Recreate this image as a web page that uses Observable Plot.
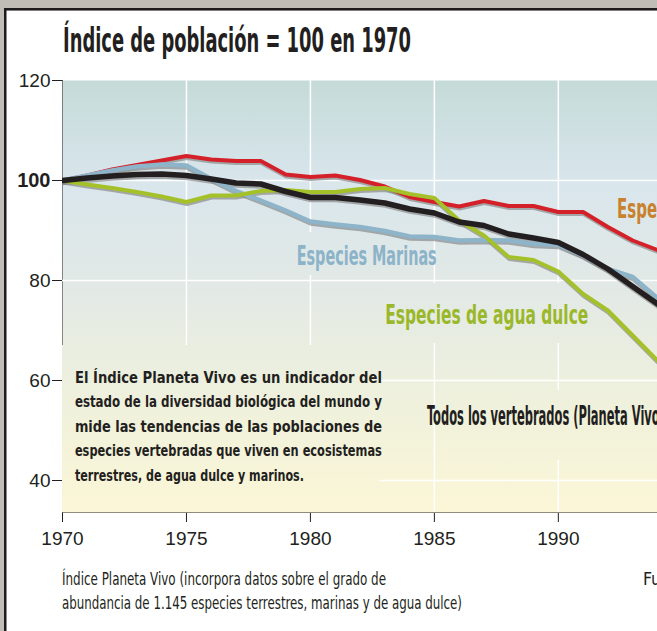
<!DOCTYPE html>
<html>
<head>
<meta charset="utf-8">
<script src="https://cdn.jsdelivr.net/npm/d3@7"></script>
<script src="https://cdn.jsdelivr.net/npm/@observablehq/plot@0.6"></script>
<style>
html, body { margin: 0; padding: 0; overflow: hidden; background: #fff; }
#defs { position: absolute; left: 0; top: 0; width: 0; height: 0; }
</style>
</head>
<body>
<svg id="defs" width="0" height="0">
  <defs>
    <linearGradient id="bg" gradientUnits="userSpaceOnUse" x1="0" y1="80" x2="0" y2="512">
      <stop offset="0" stop-color="#c5dbd8"/>
      <stop offset="0.12" stop-color="#cfe0e2"/>
      <stop offset="0.24" stop-color="#d9e6ec"/>
      <stop offset="0.47" stop-color="#e2e9e6"/>
      <stop offset="0.70" stop-color="#edf0de"/>
      <stop offset="1" stop-color="#fbf6d6"/>
    </linearGradient>
  </defs>
</svg>
<div id="chart"></div>
<script>
// ---------- data ----------
const years = [1970, 1971, 1972, 1973, 1974, 1975, 1976, 1977, 1978, 1979,
               1980, 1981, 1982, 1983, 1984, 1985, 1986, 1987, 1988, 1989,
               1990, 1991, 1992, 1993, 1994, 1995];
const terrestres = [100, 101, 102.2, 103.1, 104, 104.9, 104.2, 103.9, 103.9, 101.2,
                    100.7, 101, 100.1, 98.8, 96.7, 95.7, 94.8, 95.9, 94.9, 94.9,
                    93.7, 93.7, 90.7, 88, 86.1, 84.5];
const marinas = [100, 101, 102, 102.8, 103.2, 103, 100.3, 97.9, 96, 94,
                 91.8, 91.2, 90.7, 89.9, 88.8, 88.7, 88, 88.1, 88, 87.3,
                 87.1, 85, 82.3, 80.7, 76.5, 73];
const aguaDulce = [100, 99.2, 98.5, 97.7, 96.8, 95.7, 97, 97, 97.9, 98.1,
                   97.7, 97.7, 98.3, 98.5, 97.3, 96.5, 92, 89, 84.7, 84.1,
                   81.8, 77.3, 74, 69, 64, 59];
const todos = [100, 100.5, 100.9, 101.2, 101.3, 101, 100.3, 99.5, 99.3, 97.8,
               96.6, 96.6, 96.1, 95.5, 94.3, 93.5, 91.7, 91, 89.3, 88.5,
               87.6, 85.2, 82.3, 78.8, 75.3, 72];

const xTicks = [1970, 1975, 1980, 1985, 1990];
const yTicks = [40, 60, 80, 100, 120];
const gridX = [1975, 1980, 1985, 1990];
const gridY = [40, 60, 80, 100];

const title = "Índice de población = 100 en 1970";
const labelMarinas = "Especies Marinas";
const labelDulce = "Especies de agua dulce";
const labelTodos = "Todos los vertebrados (Planeta Vivo)";
const labelTerrestres = "Especies terrestres";
const paragraph = [
  "El Índice Planeta Vivo es un indicador del",
  "estado de la diversidad biológica del mundo y",
  "mide las tendencias de las poblaciones de",
  "especies vertebradas que viven en ecosistemas",
  "terrestres, de agua dulce y marinos."
];
const caption = [
  "Índice Planeta Vivo (incorpora datos sobre el grado de",
  "abundancia de 1.145 especies terrestres, marinas y de agua dulce)"
];
const source = "Fuente: WWF";

// ---------- layout (annotation knock-out boxes behind labels, in data units) ----------
const knockouts = [
  {x1: 1970, x2: 1982.8, y1: 33.6, y2: 67},
  {x1: 1979.1, x2: 1984.9, y1: 81, y2: 89.6},
  {x1: 1983, x2: 1991.5, y1: 67.4, y2: 79.4},
  {x1: 1985.5, x2: 1994, y1: 44, y2: 58}
];

const cond = "'Liberation Sans Narrow','Arial Narrow','DejaVu Sans Condensed','Roboto Condensed',sans-serif";
const PH = "#010203"; // placeholder, replaced by gradient

const series = [
  {values: terrestres, color: "#d42029", w: 4},
  {values: marinas, color: "#8db4c8", w: 4.5},
  {values: aguaDulce, color: "#a5c12a", w: 4},
  {values: todos, color: "#231f20", w: 5.5}
];
const X = (d, i) => years[i];
const Y = d => d;

const shadows = series.map(s => Plot.line(s.values, {x: X, y: Y, stroke: "#8a8a8a", strokeOpacity: 0.7, strokeWidth: s.w, dx: 0.5, dy: 2, clip: true}));
const lines = series.map(s => Plot.line(s.values, {x: X, y: Y, stroke: s.color, strokeWidth: s.w, clip: true}));

const plot = Plot.plot({
  width: 657, height: 631,
  marginTop: 80, marginBottom: 119, marginLeft: 62, marginRight: 0,
  style: {fontFamily: "'Liberation Sans', Arial, sans-serif", fontSize: "19px", color: "#231f20", overflow: "hidden", background: "transparent"},
  x: {domain: [1970, 1994], ticks: xTicks, tickFormat: d => String(d), tickSize: 10, tickPadding: 9, label: null, line: true},
  y: {domain: [33.6, 120], ticks: yTicks, tickFormat: d => String(d), tickSize: 10, tickPadding: 2, label: null, line: true},
  marks: [
    Plot.frame({fill: PH, stroke: "none"}),
    Plot.ruleX(gridX, {stroke: "#fff", strokeWidth: 1.5}),
    Plot.ruleY(gridY, {stroke: "#fff", strokeWidth: 1.5}),
    Plot.rect(knockouts, {x1: "x1", x2: "x2", y1: "y1", y2: "y2", fill: PH}),
    ...shadows,
    ...lines,
    Plot.text([labelMarinas], {x: 1982.27, y: 84.92, text: d => d, textAnchor: "middle", fontFamily: cond, fontWeight: "bold", fontSize: 27, fill: "#8cb3c8"}),
    Plot.text([labelDulce], {x: 1983.02, y: 73.06, text: d => d, textAnchor: "start", fontFamily: cond, fontWeight: "bold", fontSize: 27, fill: "#9ab82a"}),
    Plot.text([labelTodos], {x: 1984.7, y: 52.92, text: d => d, textAnchor: "start", fontFamily: cond, fontWeight: "bold", fontSize: 27, fill: "#231f20"}),
    Plot.text([labelTerrestres], {x: 1992.37, y: 94.26, text: d => d, textAnchor: "start", fontFamily: cond, fontWeight: "bold", fontSize: 27, fill: "#c8812c"}),
    Plot.text(paragraph, {x: 1970.5, y: (d, i) => 60.62 - 4.92 * i, text: d => d, textAnchor: "start", fontFamily: cond, fontWeight: "bold", fontSize: 16.5, fill: "#231f20"})
  ]
});

document.getElementById("chart").appendChild(plot);
const svg = d3.select(plot);

// gradient background
svg.selectAll(`[fill='${PH}']`).attr("fill", "url(#bg)");

// bold "100" tick label
svg.selectAll("text").filter(function () { return this.textContent === "100"; })
  .attr("font-weight", "bold").style("font-weight", "bold").attr("font-size", 20).style("font-size", "20px");

// page frame
const bgG = svg.insert("g", ":first-child");
bgG.append("rect").attr("width", 657).attr("height", 631).attr("fill", "#c0bcb6");
bgG.append("rect").attr("x", 6).attr("y", 10.5).attr("width", 651).attr("height", 621).attr("fill", "#fff");
bgG.append("rect").attr("x", 4).attr("y", 8).attr("width", 2.5).attr("height", 623).attr("fill", "#1d1b1b");
bgG.append("rect").attr("x", 4).attr("y", 8).attr("width", 653).attr("height", 2.5).attr("fill", "#1d1b1b");

function fitWidth(el, w) { el.setAttribute("textLength", w); el.setAttribute("lengthAdjust", "spacingAndGlyphs"); }
function justify(el, w) {
  const len = el.getComputedTextLength();
  const n = (el.textContent.match(/ /g) || []).length;
  if (len < w && n) el.style.wordSpacing = ((w - len) / n).toFixed(2) + "px";
  else fitWidth(el, w);
}

// fit labels
svg.selectAll("text").each(function () {
  const t = this.textContent;
  if (t === labelMarinas) fitWidth(this, 140);
  else if (t === labelDulce) fitWidth(this, 203);
  else if (t === labelTodos) fitWidth(this, 238);
  else if (t === labelTerrestres) fitWidth(this, 163);
  else {
    const k = paragraph.indexOf(t);
    if (k >= 0 && k < 4) justify(this, 307);
    else if (k === 4) fitWidth(this, 229);
  }
});

// title
const tt = svg.append("text").attr("x", 63).attr("y", 52).attr("text-anchor", "start")
  .attr("font-family", cond).attr("font-weight", "bold").attr("font-size", 34).attr("fill", "#231f20").text(title);
fitWidth(tt.node(), 348);

// caption
caption.forEach((c, i) => {
  const e = svg.append("text").attr("x", 62).attr("y", 585 + 24 * i).attr("text-anchor", "start")
    .attr("font-family", cond).attr("font-size", 17.5).attr("fill", "#231f20").text(c);
  fitWidth(e.node(), i === 0 ? 324 : 400);
});
svg.append("text").attr("x", 643).attr("y", 585).attr("text-anchor", "start")
  .attr("font-family", cond).attr("font-size", 17.5).attr("fill", "#231f20").text(source);
</script>
</body>
</html>
